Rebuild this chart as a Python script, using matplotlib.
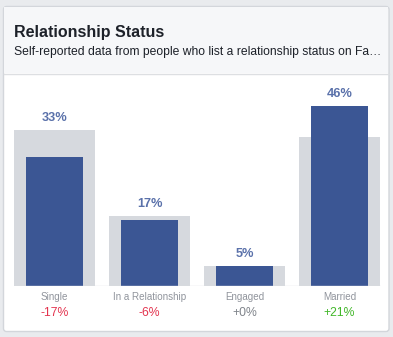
import matplotlib
matplotlib.use("Agg")
import matplotlib.pyplot as plt
from matplotlib.patches import FancyBboxPatch, Rectangle

categories = ["Single", "In a Relationship", "Engaged", "Married"]
audience = [33, 17, 5, 46]          # selected audience, %
benchmark = [40, 18, 5, 38]         # all Facebook, %
deltas = ["-17%", "-6%", "+0%", "+21%"]

W, H = 393, 337
BLUE = "#3b5694"
GREY_BAR = "#d6d9de"
LABEL_BLUE = "#5a71aa"
delta_colors = {"-": "#e3344f", "+": "#42b72a", "0": "#7f838a"}

plt.rcParams["font.family"] = ["Liberation Sans", "DejaVu Sans"]

fig = plt.figure(figsize=(W / 100, H / 100), dpi=100)
fig.patch.set_facecolor("#e9ebee")

# card + header, drawn in pixel coords on an overlay axes
bg = fig.add_axes([0, 0, 1, 1])
bg.set_xlim(0, W)
bg.set_ylim(H, 0)
bg.axis("off")
bg.add_patch(FancyBboxPatch((3.5, 6.5), 385.5, 325, boxstyle="round,pad=0,rounding_size=3",
                            facecolor="white", edgecolor="#d3d6db", linewidth=1))
bg.add_patch(Rectangle((4.2, 7.2), 384.1, 65.8, facecolor="#f6f7f9", edgecolor="none"))
bg.plot([4, 389], [73.5, 73.5], color="#dddfe2", linewidth=1)
bg.text(14, 32, "Relationship Status", fontsize=11.5, fontweight="bold",
        color="#1d2129", va="center", ha="left")
bg.text(14, 52, "Self-reported data from people who list a relationship status on Fa\u2026",
        fontsize=8.7, color="#1d2129", va="center", ha="left")

# bar chart: baseline at y=286 px, 3.91 px per %
px_per_pct = 3.91
top_px = 80
ax = fig.add_axes([7 / W, (H - 286) / H, 380 / W, (286 - top_px) / H])
ax.set_xlim(-0.5, 3.5)
ax.set_ylim(0, (286 - top_px) / px_per_pct)
ax.axis("off")

x = list(range(len(categories)))
ax.bar(x, benchmark, width=81 / 95, color=GREY_BAR, zorder=1)
ax.bar(x, audience, width=57 / 95, color=BLUE, zorder=2)
ax.hlines(0, -81 / 190, 3 + 81 / 190, color="#dddfe2", linewidth=1, zorder=3)

for i, (cat, a, b, d) in enumerate(zip(categories, audience, benchmark, deltas)):
    ax.annotate(f"{a}%", (i, max(a, b)), xytext=(0, 12), textcoords="offset pixels",
                ha="center", va="center", fontsize=9.2, fontweight="bold", color=LABEL_BLUE)
    ax.annotate(cat, (i, 0), xytext=(0, -11.5), textcoords="offset pixels",
                ha="center", va="center", fontsize=7.1, color="#90949c", annotation_clip=False)
    col = delta_colors["0"] if d == "+0%" else delta_colors[d[0]]
    ax.annotate(d, (i, 0), xytext=(0, -26.5), textcoords="offset pixels",
                ha="center", va="center", fontsize=8.8, color=col, annotation_clip=False)

fig.savefig("out.png", dpi=100, facecolor=fig.get_facecolor())
